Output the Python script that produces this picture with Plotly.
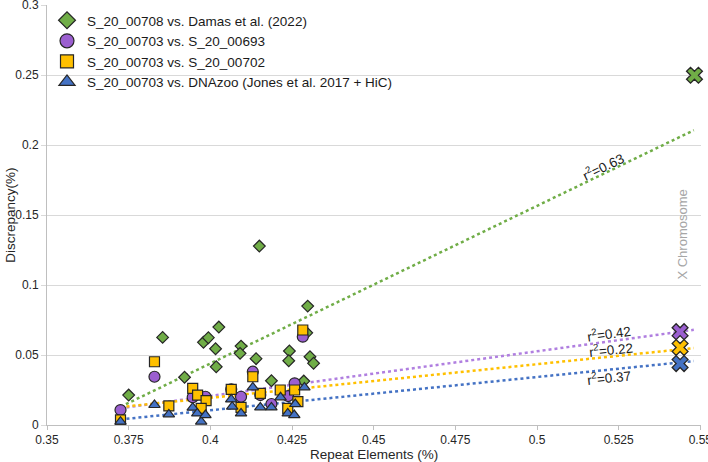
import plotly.graph_objects as go

# ---------------- data ----------------
series_names = [
    "S_20_00708 vs. Damas et al. (2022)",
    "S_20_00703 vs. S_20_00693",
    "S_20_00703 vs. S_20_00702",
    "S_20_00703 vs. DNAzoo (Jones et al. 2017 + HiC)",
]

green_x = [0.3750, 0.3854, 0.3921, 0.3979, 0.3994, 0.4016, 0.4026, 0.4018, 0.4094, 0.4091,
           0.4140, 0.4150, 0.4187, 0.4242, 0.4240, 0.4298, 0.4295, 0.4305, 0.4316, 0.4286]
green_y = [0.0214, 0.0626, 0.0341, 0.0591, 0.0624, 0.0545, 0.0700, 0.0416, 0.0564, 0.0512,
           0.0474, 0.1279, 0.0316, 0.0529, 0.0459, 0.0850, 0.0659, 0.0488, 0.0441, 0.0314]

purple_x = [0.3725, 0.3829, 0.3946, 0.3985, 0.4064, 0.4094, 0.4130, 0.4153, 0.4187, 0.4238,
            0.4258, 0.4283]
purple_y = [0.0107, 0.0345, 0.0198, 0.0202, 0.0255, 0.0202, 0.0381, 0.0214, 0.0150, 0.0207,
            0.0298, 0.0631]

yellow_x = [0.3725, 0.3829, 0.3873, 0.3946, 0.3961, 0.3987, 0.3972, 0.4064, 0.4094, 0.4130,
            0.4153, 0.4214, 0.4258, 0.4237, 0.4268, 0.4283]
yellow_y = [0.0036, 0.0452, 0.0136, 0.0262, 0.0214, 0.0174, 0.0119, 0.0255, 0.0126, 0.0345,
            0.0226, 0.0250, 0.0250, 0.0119, 0.0167, 0.0679]

blue_x = [0.3725, 0.3829, 0.3873, 0.3946, 0.3960, 0.3972, 0.3985, 0.4064, 0.4067, 0.4094,
          0.4130, 0.4153, 0.4187, 0.4215, 0.4237, 0.4257, 0.4260, 0.4288]
blue_y = [0.0024, 0.0143, 0.0076, 0.0124, 0.0083, 0.0024, 0.0071, 0.0183, 0.0131, 0.0083,
          0.0269, 0.0126, 0.0126, 0.0198, 0.0083, 0.0071, 0.0150, 0.0269]

# X chromosome points (green, purple, yellow, blue)
xchr_x = [0.5482, 0.5438, 0.5438, 0.5438]
xchr_y = [0.2500, 0.0667, 0.0554, 0.0439]

# trend lines (start / end)
trend_x = [0.3725, 0.5480]
trend_green = [0.0130, 0.2107]
trend_purple = [0.0120, 0.0680]
trend_yellow = [0.0128, 0.0550]
trend_blue = [0.0040, 0.0457]

r2_values = ["0.63", "0.42", "0.22", "0.37"]
r2_pos_x = [0.5203, 0.5221, 0.5227, 0.5221]
r2_pos_y = [0.1850, 0.0657, 0.0543, 0.0343]
r2_angle = [-26, -8, -6, -6]

x_ticks = [0.35, 0.375, 0.4, 0.425, 0.45, 0.475, 0.5, 0.525, 0.55]
y_ticks = [0, 0.05, 0.1, 0.15, 0.2, 0.25, 0.3]
y_tick_text = ["0", "0.05", "0.1", "0.15", "0.2", "0.25", "0.3"]

# ---------------- styling ----------------
FONT = "Liberation Sans, Arial, Helvetica, sans-serif"
c_green, c_purple, c_yellow, c_blue = "#70ad47", "#9b5fd0", "#ffc000", "#4472c4"
line_purple = "#b07fe0"
outline = dict(color="#262626", width=1.2)

fig = go.Figure()

# trend lines (below markers)
for ty, col in [(trend_green, c_green), (trend_purple, line_purple),
                (trend_yellow, c_yellow), (trend_blue, c_blue)]:
    fig.add_trace(go.Scatter(x=trend_x, y=ty, mode="lines", showlegend=False,
                             line=dict(color=col, width=2.5, dash="dot"), hoverinfo="skip"))

series = [
    (green_x, green_y, "diamond", 9, 13, c_green),
    (purple_x, purple_y, "circle", 11, 14, c_purple),
    (yellow_x, yellow_y, "square", 10, 13, c_yellow),
    (blue_x, blue_y, "triangle-up", 10, 14, c_blue),
]
for i, (sx, sy, sym, size, lsize, col) in enumerate(series):
    fig.add_trace(go.Scatter(x=sx, y=sy, mode="markers", name=series_names[i], showlegend=False,
                             marker=dict(symbol=sym, size=size, color=col, line=outline)))
# legend entries (larger symbols, like the reference legend)
for i, (sx, sy, sym, size, lsize, col) in enumerate(series):
    fig.add_trace(go.Scatter(x=[None], y=[None], mode="markers", name=series_names[i],
                             marker=dict(symbol=sym, size=lsize, color=col, line=outline)))

# X chromosome markers
fig.add_trace(go.Scatter(x=xchr_x, y=xchr_y, mode="markers", showlegend=False, cliponaxis=False,
                         marker=dict(symbol="x", size=14,
                                     color=[c_green, c_purple, c_yellow, c_blue],
                                     line=dict(color="#262626", width=1.3))))

annotations = []
for v, ax_, ay_, ang in zip(r2_values, r2_pos_x, r2_pos_y, r2_angle):
    annotations.append(dict(x=ax_, y=ay_, xref="x", yref="y", text="r<sup>2</sup>=" + v,
                            showarrow=False, textangle=ang,
                            font=dict(family=FONT, size=13.5, color="#1a1a1a")))
annotations.append(dict(x=0.5445, y=0.1364, xref="x", yref="y", text="X Chromosome",
                        showarrow=False, textangle=-90,
                        font=dict(family=FONT, size=13, color="#a6a6a6")))
annotations.append(dict(x=0.5, y=-0.071, xref="paper", yref="paper", text="Repeat Elements (%)",
                        showarrow=False, xanchor="center", yanchor="middle",
                        font=dict(family=FONT, size=13.5, color="#262626")))
annotations.append(dict(x=-0.057, y=0.5, xref="paper", yref="paper", text="Discrepancy(%)",
                        showarrow=False, textangle=-90, xanchor="center", yanchor="middle",
                        font=dict(family=FONT, size=13.5, color="#262626")))

fig.update_layout(
    width=708, height=462,
    margin=dict(l=47, r=7, t=5, b=37, pad=0, autoexpand=False),
    paper_bgcolor="white", plot_bgcolor="white",
    font=dict(family=FONT, size=12, color="#262626"),
    annotations=annotations,
    legend=dict(x=0.0, y=1.0, xanchor="left", yanchor="top",
                bgcolor="rgba(0,0,0,0)", font=dict(family=FONT, size=13.5, color="#1a1a1a"),
                itemwidth=30, tracegroupgap=0),
    xaxis=dict(range=[0.35, 0.5502], tickvals=x_ticks, ticktext=[str(t) for t in x_ticks],
               showgrid=False, zeroline=False, showline=True, linecolor="#bfbfbf", linewidth=1,
               ticks="outside", ticklen=4, tickcolor="#bfbfbf", automargin=False,
               ticklabeloverflow="allow",
               tickfont=dict(family=FONT, size=12, color="#262626")),
    yaxis=dict(range=[0, 0.3002], tickvals=y_ticks, ticktext=y_tick_text,
               showgrid=True, gridcolor="#d9d9d9", gridwidth=1, zeroline=False,
               showline=True, linecolor="#bfbfbf", linewidth=1, automargin=False,
               ticklabeloverflow="allow",
               ticks="outside", ticklen=5, tickcolor="#d9d9d9",
               tickfont=dict(family=FONT, size=12, color="#262626")),
    showlegend=True,
)

fig.write_html("out.html", post_script="document.body.style.margin='0';",
               config={"displayModeBar": False})
